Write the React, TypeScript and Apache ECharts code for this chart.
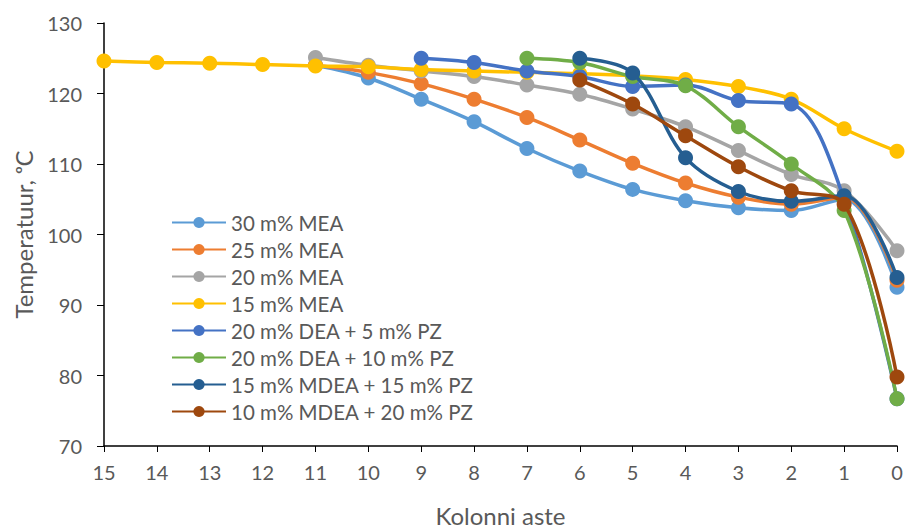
import React, { useEffect, useRef } from "react";
import * as echarts from "echarts";

const categories = ["15", "14", "13", "12", "11", "10", "9", "8", "7", "6", "5", "4", "3", "2", "1", "0"];

const mea30 = [null, null, null, null, 124.0, 122.2, 119.2, 116.0, 112.2, 109.0, 106.4, 104.8, 103.8, 103.4, 105.0, 92.5];
const mea25 = [null, null, null, null, 124.0, 123.0, 121.4, 119.2, 116.6, 113.4, 110.1, 107.3, 105.3, 104.3, 105.3, 93.5];
const mea20 = [null, null, null, null, 125.1, 124.0, 123.2, 122.4, 121.2, 119.9, 117.8, 115.3, 111.9, 108.5, 106.2, 97.7];
const mea15 = [124.6, 124.4, 124.3, 124.1, 123.9, 123.8, 123.4, 123.2, 123.0, 122.8, 122.5, 122.0, 121.0, 119.2, 115.0, 111.8];
const dea20pz5 = [null, null, null, null, null, null, 125.0, 124.4, 123.2, 122.4, 121.0, 121.2, 119.0, 118.5, 105.0, 76.7];
const dea20pz10 = [null, null, null, null, null, null, null, null, 125.0, 124.4, 122.4, 121.1, 115.3, 110.0, 103.4, 76.7];
const mdea15pz15 = [null, null, null, null, null, null, null, null, null, 125.0, 122.9, 110.9, 106.1, 104.7, 105.5, 93.9];
const mdea10pz20 = [null, null, null, null, null, null, null, null, null, 121.9, 118.5, 114.0, 109.6, 106.2, 104.3, 79.8];

const seriesNames = [
  "30 m% MEA",
  "25 m% MEA",
  "20 m% MEA",
  "15 m% MEA",
  "20 m% DEA + 5 m% PZ",
  "20 m% DEA + 10 m% PZ",
  "15 m% MDEA + 15 m% PZ",
  "10 m% MDEA + 20 m% PZ",
];
const seriesData = [mea30, mea25, mea20, mea15, dea20pz5, dea20pz10, mdea15pz15, mdea10pz20];
const colors = ["#5B9BD5", "#ED7D31", "#A5A5A5", "#FFC000", "#4472C4", "#70AD47", "#255E91", "#9E480E"];

const FONT = "Lato, 'Open Sans', sans-serif";

export default function App() {
  const ref = useRef<HTMLDivElement>(null);
  useEffect(() => {
    if (!ref.current) return;
    const chart = echarts.init(ref.current, null, { renderer: "svg" });
    chart.setOption({
      animation: false,
      color: colors,
      textStyle: { fontFamily: FONT },
      grid: { left: 104, right: 9, top: 23, bottom: 80, containLabel: false },
      legend: {
        orient: "vertical",
        left: 166,
        top: 207,
        itemWidth: 54,
        itemHeight: 14,
        itemGap: 6,
        textStyle: { fontSize: 20.5, color: "#595959", fontFamily: FONT },
        data: seriesNames,
      },
      xAxis: {
        type: "category",
        data: categories,
        boundaryGap: false,
        name: "Kolonni aste",
        nameLocation: "middle",
        nameGap: 57,
        nameTextStyle: { fontSize: 24, color: "#595959", fontFamily: FONT },
        axisLine: { lineStyle: { color: "#000", width: 1.5 } },
        axisTick: { show: true, length: 6, lineStyle: { color: "#000" }, alignWithLabel: true },
        axisLabel: { fontSize: 20, color: "#595959", margin: 16, fontFamily: FONT },
        splitLine: { show: false },
      },
      yAxis: {
        type: "value",
        min: 70,
        max: 130,
        interval: 10,
        name: "Temperatuur, ᵒC",
        nameLocation: "middle",
        nameGap: 69,
        nameRotate: 90,
        nameTextStyle: { fontSize: 24, color: "#595959", fontFamily: FONT },
        axisLine: { show: true, lineStyle: { color: "#000", width: 1.5 } },
        axisTick: { show: true, length: 7, lineStyle: { color: "#000" } },
        axisLabel: { fontSize: 20, color: "#595959", margin: 22, fontFamily: FONT },
        splitLine: { show: false },
      },
      series: seriesNames.map((name, i) => ({
        name,
        type: "line",
        data: seriesData[i],
        smooth: 0.35,
        symbol: "circle",
        symbolSize: 15,
        showSymbol: true,
        connectNulls: false,
        lineStyle: { width: 3.5, color: colors[i] },
        itemStyle: { color: colors[i] },
        z: 2 + i,
      })),
    });
    return () => chart.dispose();
  }, []);
  return (
    <div
      ref={ref}
      style={{ position: "fixed", left: 0, top: 0, width: 906, height: 532, background: "#fff" }}
    />
  );
}
